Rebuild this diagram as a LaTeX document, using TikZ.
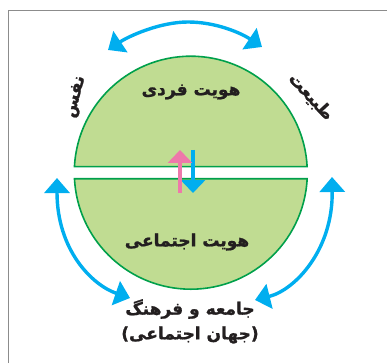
\documentclass[tikz,border=0pt]{standalone}
\usepackage{fontspec}
\usetikzlibrary{arrows.meta}
\newfontfamily\arabicfont[Script=Arabic,BoldFeatures={FakeBold=1.2}]{DejaVu Sans}
\TeXXeTstate=1
\definecolor{segfill}{RGB}{192,220,146}
\definecolor{segline}{RGB}{0,160,75}
\definecolor{arrblue}{RGB}{0,174,239}
\definecolor{arrpink}{RGB}{238,120,170}
\definecolor{txtc}{RGB}{35,31,32}
\definecolor{framec}{RGB}{140,140,140}
\tikzset{
  seg/.style={fill=segfill,draw=segline,line width=1.6pt},
  bigarrow/.style={draw=arrblue,line width=3.4pt,{Triangle[length=15pt,width=25pt]}-{Triangle[length=15pt,width=25pt]}},
  smallarrow/.style={line width=4pt,-{Triangle[length=13pt,width=24pt]}},
  lbl/.style={text=txtc,font=\arabicfont\bfseries\fontsize{17}{20}\selectfont,inner sep=0pt},
}
\begin{document}
\begin{tikzpicture}[x=1pt,y=-1pt]
\useasboundingbox (0,0) rectangle (387,363);
% frame
\draw[framec,line width=0.8pt] (8,363) -- (8,10) -- (387,10);
% segments
\draw[seg] (74.45,166.7) arc[start angle=182.95,end angle=357.05,radius=116.5] -- cycle;
\draw[seg] (307.15,178.7) arc[start angle=2.95,end angle=177.05,radius=116.5] -- cycle;
% labels
\node[lbl] (fardi) at (191,92) {\beginR هویت فردی\endR};
\node[lbl] (ejtemai) at (187,242) {\beginR هویت اجتماعی\endR};
\node[lbl] (jameh) at (190,309) {\beginR جامعه و فرهنگ\endR};
\node[lbl] (jahan) at (190,335) {)\beginR جهان اجتماعی\endR(};
\node[lbl,rotate=75] (nafs) at (76,97) {\beginR نفس\endR};
\node[lbl,rotate=-47] (tabiat) at (311,97) {\beginR طبیعت\endR};
% arrow end points
\coordinate (t1) at (108,50);
\coordinate (tm) at (188,22);
\coordinate (t2) at (262,47);
\coordinate (l1) at (57,178);
\coordinate (l2) at (130,298);
\coordinate (r1) at (332,177);
\coordinate (r2) at (255,300);
\draw[bigarrow] (t1) .. controls (129,36) and (160,22) .. (tm) .. controls (216,22) and (241,33) .. (t2);
\draw[bigarrow] (l1) .. controls (57,250) and (92,285) .. (l2);
\draw[bigarrow] (r1) .. controls (333,250) and (295,290) .. (r2);
% small arrows
\coordinate (bs) at (193,150);
\coordinate (be) at (193,193);
\coordinate (ps) at (180,193);
\coordinate (pe) at (180,150);
\draw[smallarrow,arrblue] (bs) -- (be);
\draw[smallarrow,arrpink] (ps) -- (pe);
\end{tikzpicture}
\end{document}
